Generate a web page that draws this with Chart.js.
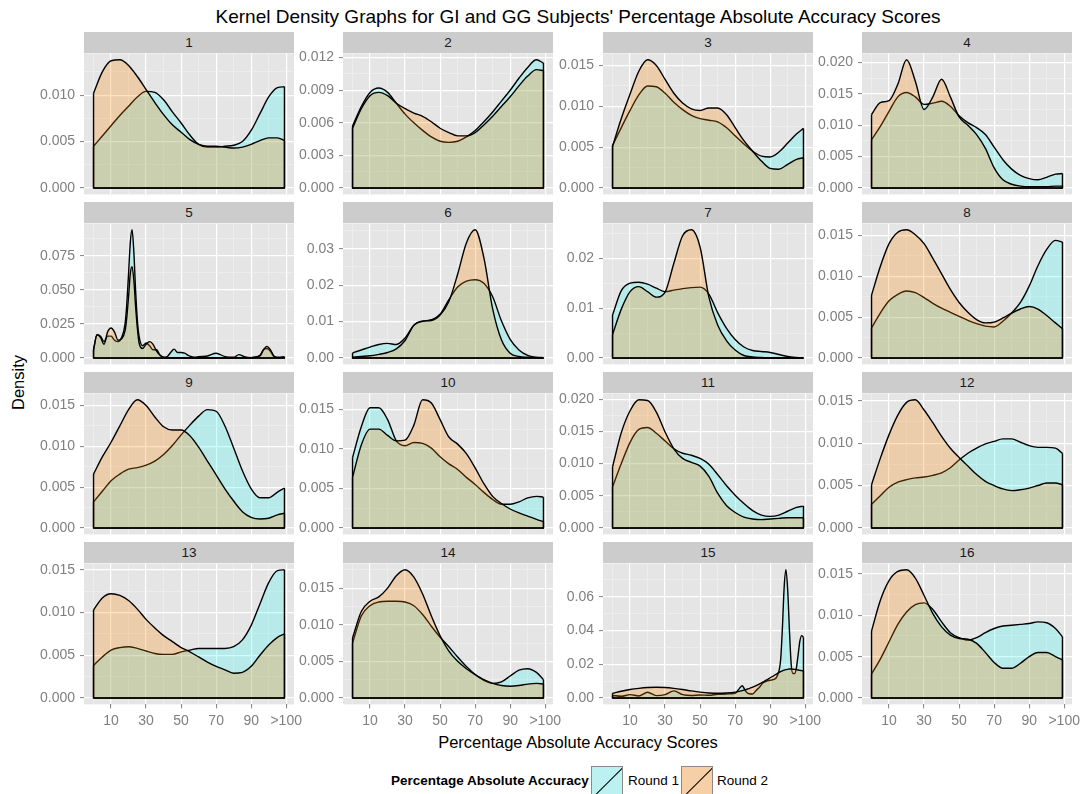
<!DOCTYPE html>
<html>
<head>
<meta charset="utf-8">
<script src="https://cdn.jsdelivr.net/npm/chart.js@4.4.1/dist/chart.umd.min.js"></script>
<style>
  body { margin: 0; background: #fff; font-family: "Liberation Sans", Arial, sans-serif; }
  #page { position: relative; width: 1081px; height: 794px; overflow: hidden; }
  .strip { position: absolute; width: 210px; height: 21px; line-height: 21px; background: #cccccc;
           color: #1a1a1a; font-size: 13.5px; text-align: center; }
  .box { position: absolute; }
  .txt { position: absolute; white-space: nowrap; color: #000; }
  .key { position: absolute; width: 32px; height: 32px; border: 1px solid #8a8a8a; box-sizing: border-box;
         overflow: hidden; }
  .key::after { content: ""; position: absolute; left: -6px; top: 15px; width: 44px; height: 1.4px;
                background: #000; transform: rotate(-45deg); }
</style>
</head>
<body>
<div id="page">
  <div class="txt" style="left:0;width:1156px;top:6px;text-align:center;font-size:19px;">Kernel Density Graphs for GI and GG Subjects' Percentage Absolute Accuracy Scores</div>
  <div class="txt" style="left:-14px;top:373px;font-size:16.5px;transform:rotate(-90deg);width:64px;text-align:center;">Density</div>
  <div class="txt" style="left:84px;width:988px;top:733px;text-align:center;font-size:16.5px;">Percentage Absolute Accuracy Scores</div>
  <div class="txt" style="left:391px;top:773px;font-size:13.5px;font-weight:bold;">Percentage Absolute Accuracy</div>
  <div class="key" style="left:591px;top:766px;background:#bcf1f1;"></div>
  <div class="txt" style="left:628px;top:773px;font-size:13.5px;">Round 1</div>
  <div class="key" style="left:681px;top:766px;background:#f6cfa6;"></div>
  <div class="txt" style="left:717px;top:773px;font-size:13.5px;">Round 2</div>
</div>
<script>
Chart.defaults.font.family = '"Liberation Sans", Arial, sans-serif'

const panels = ["1", "2", "3", "4", "5", "6", "7", "8", "9", "10", "11", "12", "13", "14", "15", "16"]

// x positions of the density estimates
const xGrid = [0, 5, 10, 15, 20, 25, 30, 35, 40, 45, 50, 55, 60, 65, 70, 75, 80, 85, 90, 95, 100, 105, 109]
const xGrid5 = [0, 2, 4, 6, 8, 10, 12, 14, 16, 18, 19, 20, 21, 22, 23, 24, 25, 26, 28, 30, 32, 34, 36, 38, 40,
  42, 44, 46, 48, 50, 52, 54, 56, 58, 60, 65, 70, 75, 80, 83, 86, 90, 95, 97, 99, 101, 103, 105, 109]
const xGrid15 = [0, 5, 10, 15, 20, 25, 30, 35, 40, 45, 50, 55, 60, 65, 70, 72, 74, 76, 78, 80, 82, 84, 86, 88,
  90, 92, 94, 96, 97, 98, 99, 100, 101, 102, 103, 104, 105, 106, 107, 108, 109]
const panelX = [xGrid, xGrid, xGrid, xGrid, xGrid5, xGrid, xGrid, xGrid,
  xGrid, xGrid, xGrid, xGrid, xGrid, xGrid, xGrid15, xGrid]

// Round 1 densities, one list per panel
const round1 = [
  [.0045, .0056, .0067, .0078, .0088, .0098, .0104, .0103, .0095, .0082, .0070, .0057, .0047, .0044, .0044, .0045, .0046, .0050, .0062, .0080, .0098, .0108, .0109],
  [.0057, .0075, .0088, .0092, .0088, .0078, .0068, .0060, .0053, .0047, .0043, .0042, .0043, .0047, .0053, .0061, .0070, .0080, .0090, .0101, .0111, .0118, .0115],
  [.0052, .0074, .0095, .0114, .0125, .0124, .0116, .0105, .0096, .0089, .0085, .0083, .0081, .0074, .0064, .0054, .0045, .0039, .0038, .0044, .0055, .0066, .0073],
  [.0077, .0098, .0122, .0145, .0152, .0145, .0133, .0135, .0138, .0130, .0115, .0104, .0096, .0085, .0065, .0045, .0030, .0020, .0015, .0013, .0017, .0022, .0023],
  [.006, .017, .016, .012, .016, .016, .013, .012, .015, .025, .040, .062, .085, .094, .078, .050, .028, .016, .009, .011, .009, .006, .006, .002, .0005,
   .001, .004, .0065, .004, .004, .0035, .002, .001, .0005, .001, .0015, .0035, .001, .0005, .0025, .001, .0003, .002, .006, .007, .005, .001, .0005, .001],
  [.0014, .0022, .0030, .0037, .0040, .0037, .0055, .0090, .0101, .0105, .0120, .0160, .0195, .0211, .0215, .0205, .0168, .0102, .0051, .0022, .0007, .0002, .0001],
  [.0086, .0135, .0150, .0152, .0148, .0140, .0133, .0136, .0139, .0141, .0142, .0128, .0091, .0060, .0037, .0022, .0015, .0013, .0011, .0007, .0003, .0001, 0],
  [.0037, .0055, .0070, .0078, .0082, .0080, .0074, .0067, .0061, .0056, .0051, .0046, .0042, .0039, .0038, .0045, .0055, .0068, .0088, .0113, .0133, .0144, .0142],
  [.0032, .0045, .0058, .0066, .0072, .0074, .0077, .0082, .0090, .0101, .0114, .0126, .0137, .0145, .0143, .0125, .0098, .0070, .0048, .0037, .0037, .0044, .0049],
  [.0089, .0128, .0152, .0152, .0137, .0110, .0104, .0108, .0107, .0101, .0090, .0081, .0074, .0064, .0055, .0045, .0036, .0030, .0030, .0033, .0038, .0040, .0039],
  [.0064, .0100, .0133, .0153, .0156, .0147, .0135, .0123, .0116, .0113, .0108, .0099, .0083, .0066, .0051, .0038, .0027, .0020, .0018, .0020, .0026, .0032, .0034],
  [.0028, .0038, .0048, .0054, .0057, .0059, .0060, .0062, .0065, .0071, .0080, .0088, .0094, .0099, .0102, .0105, .0105, .0101, .0097, .0095, .0095, .0094, .0088],
  [.0038, .0048, .0056, .0059, .0060, .0058, .0055, .0052, .0051, .0051, .0054, .0056, .0058, .0058, .0058, .0058, .0060, .0068, .0085, .0110, .0135, .0149, .0150],
  [.0075, .0112, .0126, .0131, .0132, .0132, .0131, .0126, .0114, .0098, .0083, .0070, .0056, .0043, .0032, .0024, .0020, .0022, .0030, .0038, .0040, .0035, .0025],
  [.0015, .0010, .0020, .0012, .0034, .0014, .0020, .0042, .0020, .0015, .0018, .0016, .0022, .0024, .0028, .0050, .0073, .0040, .0025, .0024,
   .0045, .0065, .0090, .0100, .0105, .0110, .0130, .0230, .0420, .0660, .0760, .0640, .0400, .0200, .0145, .0145, .0180, .0260, .0340, .0370, .0360],
  [.0029, .0047, .0068, .0089, .0104, .0113, .0115, .0107, .0092, .0079, .0073, .0070, .0073, .0079, .0084, .0087, .0088, .0089, .0090, .0092, .0091, .0084, .0074]
]

// Round 2 densities, one list per panel
const round2 = [
  [.0102, .0125, .0137, .0138, .0132, .0120, .0106, .0092, .0079, .0068, .0060, .0052, .0047, .0045, .0045, .0044, .0043, .0044, .0047, .0051, .0054, .0054, .0051],
  [.0055, .0073, .0085, .0088, .0085, .0078, .0073, .0069, .0066, .0061, .0055, .0051, .0048, .0048, .0051, .0058, .0066, .0075, .0084, .0094, .0103, .0109, .0108],
  [.0051, .0085, .0115, .0143, .0157, .0150, .0133, .0116, .0104, .0097, .0095, .0098, .0098, .0090, .0074, .0058, .0045, .0033, .0024, .0023, .0029, .0035, .0037],
  [.0117, .0136, .0139, .0165, .0204, .0170, .0125, .0145, .0173, .0145, .0113, .0100, .0085, .0063, .0032, .0013, .0006, .0003, .0002, .0002, .0002, .0003, .0003],
  [.006, .017, .015, .010, .019, .022, .019, .013, .014, .020, .030, .045, .062, .067, .057, .038, .022, .011, .007, .010, .012, .010, .005, .002, .0005,
   .0002, .0002, .0002, .0002, .0002, .0002, .0002, .0002, .0002, .0002, .0002, .0002, .0002, .0002, .0002, .0002, .0003, .0015, .006, .0085, .006, .0015, .0003, .0002],
  [.0002, .0004, .0006, .0010, .0015, .0025, .0048, .0090, .0101, .0103, .0118, .0155, .0230, .0316, .0352, .0275, .0135, .0050, .0013, .0004, .0002, .0001, 0],
  [.0047, .0098, .0133, .0143, .0133, .0122, .0132, .0190, .0245, .0257, .0222, .0122, .0066, .0035, .0016, .0005, .0002, .0001, 0, 0, 0, 0, 0],
  [.0077, .0112, .0140, .0154, .0157, .0151, .0140, .0122, .0103, .0084, .0068, .0056, .0047, .0043, .0044, .0049, .0055, .0060, .0063, .0060, .0052, .0043, .0036],
  [.0066, .0087, .0105, .0125, .0145, .0157, .0150, .0136, .0124, .0120, .0120, .0113, .0099, .0082, .0065, .0048, .0033, .0020, .0013, .0011, .0012, .0016, .0018],
  [.0064, .0105, .0125, .0125, .0117, .0110, .0111, .0130, .0162, .0158, .0137, .0115, .0106, .0094, .0076, .0056, .0040, .0031, .0024, .0019, .0015, .0011, .0008],
  [.0095, .0148, .0182, .0199, .0198, .0180, .0149, .0123, .0108, .0102, .0096, .0080, .0054, .0035, .0024, .0017, .0014, .0013, .0014, .0015, .0016, .0016, .0016],
  [.0051, .0082, .0110, .0133, .0148, .0151, .0139, .0124, .0108, .0094, .0083, .0073, .0063, .0055, .0050, .0046, .0044, .0045, .0047, .0050, .0053, .0053, .0051],
  [.0103, .0117, .0122, .0120, .0114, .0104, .0092, .0082, .0073, .0066, .0059, .0054, .0048, .0042, .0037, .0033, .0029, .0030, .0037, .0050, .0062, .0071, .0075],
  [.0082, .0118, .0132, .0138, .0150, .0167, .0175, .0165, .0142, .0112, .0085, .0064, .0050, .0040, .0032, .0025, .0020, .0017, .0016, .0017, .0019, .0020, .0019],
  [.0028, .0040, .0050, .0057, .0062, .0064, .0062, .0057, .0050, .0042, .0035, .0030, .0028, .0030, .0035, .0039, .0044, .0050, .0056, .0064,
   .0073, .0083, .0095, .0107, .0120, .0132, .0145, .0156, .0161, .0165, .0168, .0170, .0172, .0172, .0171, .0170, .0168, .0166, .0164, .0162, .0160],
  [.0081, .0118, .0142, .0153, .0155, .0145, .0124, .0102, .0086, .0076, .0072, .0071, .0066, .0055, .0043, .0036, .0036, .0042, .0050, .0055, .0055, .0050, .0046]
]

// y tick spacing and label decimals per panel
const yStep = [.005, .003, .005, .005, .025, .01, .01, .005, .005, .005, .005, .005, .005, .005, .02, .005]
const yDigits = [3, 3, 3, 3, 3, 2, 2, 3, 3, 3, 3, 3, 3, 3, 2, 3]

const xTickValues = [10, 30, 50, 70, 90, 110]
const xTickLabels = ["10", "30", "50", "70", "90", ">100"]

const FILL1 = "rgba(57, 253, 253, 0.25)"
const FILL2 = "rgba(255, 133, 0, 0.25)"

const COL_LEFT = [84, 343, 603, 862]
const ROW_TOP = [32, 202, 372, 542]
const STRIP_H = 21
const PLOT_W = 210
const PLOT_H = 141
const AXIS_W = 60
const PAD_TOP = 10

const panelBg = {
  id: "panelBg",
  beforeDraw(chart) {
    const a = chart.chartArea, ctx = chart.ctx
    ctx.save()
    ctx.fillStyle = "#e5e5e5"
    ctx.fillRect(a.left, a.top, a.right - a.left, a.bottom - a.top)
    ctx.restore()
  }
}

// closes each density polygon: the two ends down to zero and the base line
const closeArea = {
  id: "closeArea",
  afterDatasetDraw(chart, args) {
    const pts = args.meta.data
    if (!pts.length) return
    const y0 = chart.scales.y.getPixelForValue(0)
    const first = pts[0], last = pts[pts.length - 1]
    const ctx = chart.ctx
    ctx.save()
    ctx.strokeStyle = "#000"
    ctx.lineWidth = 1.4
    ctx.lineJoin = "round"
    ctx.beginPath()
    ctx.moveTo(first.x, first.y)
    ctx.lineTo(first.x, y0)
    ctx.lineTo(last.x, y0)
    ctx.lineTo(last.x, last.y)
    ctx.stroke()
    ctx.restore()
  }
}

const page = document.getElementById("page")

panels.forEach((name, i) => {
  const row = Math.floor(i / 4), col = i % 4
  const bottom = row === 3
  const xAxisH = bottom ? 30 : 12
  const left = COL_LEFT[col], top = ROW_TOP[row]

  const strip = document.createElement("div")
  strip.className = "strip"
  strip.style.left = left + "px"
  strip.style.top = top + "px"
  strip.textContent = name
  page.appendChild(strip)

  const box = document.createElement("div")
  box.className = "box"
  box.style.left = (left - AXIS_W) + "px"
  box.style.top = (top + STRIP_H - PAD_TOP) + "px"
  box.style.width = (AXIS_W + PLOT_W + 15) + "px"
  box.style.height = (PAD_TOP + PLOT_H + xAxisH) + "px"
  const canvas = document.createElement("canvas")
  box.appendChild(canvas)
  page.appendChild(box)

  const xs = panelX[i]
  const top1 = Math.max(...round1[i], ...round2[i])
  const yMin = -0.05 * top1, yMax = 1.05 * top1
  const step = yStep[i]
  const isMajorY = v => Math.abs(v / step - Math.round(v / step)) < 1e-6
  const isMajorX = v => xTickValues.includes(v)

  const chart = new Chart(canvas.getContext("2d"), {
    type: "line",
    data: {
      datasets: [
        {
          label: "Round 1",
          data: xs.map((x, k) => ({ x, y: round1[i][k] })),
          fill: "origin", backgroundColor: FILL1, borderColor: "#000", borderWidth: 1.4,
          pointRadius: 0, pointHoverRadius: 0, pointBorderWidth: 0,
          cubicInterpolationMode: "monotone", order: 1
        },
        {
          label: "Round 2",
          data: xs.map((x, k) => ({ x, y: round2[i][k] })),
          fill: "origin", backgroundColor: FILL2, borderColor: "#000", borderWidth: 1.4,
          pointRadius: 0, pointHoverRadius: 0, pointBorderWidth: 0,
          cubicInterpolationMode: "monotone", order: 0
        }
      ]
    },
    options: {
      responsive: true,
      maintainAspectRatio: false,
      animation: false,
      events: [],
      layout: { padding: { left: 0, right: 15, top: PAD_TOP, bottom: 0 } },
      plugins: { legend: { display: false }, tooltip: { enabled: false } },
      scales: {
        x: {
          type: "linear", min: -5.45, max: 114.45,
          afterBuildTicks: s => { s.ticks = [0, 10, 20, 30, 40, 50, 60, 70, 80, 90, 100, 110].map(v => ({ value: v })) },
          afterFit: s => { s.height = xAxisH },
          border: { display: false },
          grid: {
            color: c => isMajorX(c.tick.value) ? "#ffffff" : "#f2f2f2",
            lineWidth: c => isMajorX(c.tick.value) ? 1.2 : 0.6,
            drawTicks: bottom, tickLength: 4, tickWidth: 1,
            tickColor: c => isMajorX(c.tick.value) ? "#7f7f7f" : "rgba(0,0,0,0)"
          },
          ticks: {
            display: bottom, autoSkip: false, maxRotation: 0, color: "#7f7f7f",
            font: { size: 14 }, padding: 4,
            callback: v => { const k = xTickValues.indexOf(v); return k < 0 ? "" : xTickLabels[k] }
          }
        },
        y: {
          type: "linear", min: yMin, max: yMax,
          afterBuildTicks: s => {
            const t = []
            for (let k = 0; k * step / 2 <= yMax; k++) t.push({ value: +(k * step / 2).toFixed(6) })
            s.ticks = t
          },
          afterFit: s => { s.width = AXIS_W },
          border: { display: false },
          grid: {
            color: c => isMajorY(c.tick.value) ? "#ffffff" : "#f2f2f2",
            lineWidth: c => isMajorY(c.tick.value) ? 1.2 : 0.6,
            tickLength: 4, tickWidth: 1,
            tickColor: c => isMajorY(c.tick.value) ? "#7f7f7f" : "rgba(0,0,0,0)"
          },
          ticks: {
            autoSkip: false, color: "#7f7f7f", font: { size: 14 }, padding: 5,
            callback: v => isMajorY(v) ? v.toFixed(yDigits[i]) : ""
          }
        }
      }
    },
    plugins: [panelBg, closeArea]
  })

  // keep the plotting area exactly under its strip, PLOT_H tall
  const a = chart.chartArea
  const dTop = a.top - PAD_TOP
  const dBottom = (PAD_TOP + PLOT_H) - a.bottom
  if (Math.abs(dTop) > 0.5 || Math.abs(dBottom) > 0.5) {
    box.style.top = (top + STRIP_H - PAD_TOP - dTop) + "px"
    box.style.height = (PAD_TOP + PLOT_H + xAxisH + dTop + dBottom) + "px"
    chart.resize()
  }
})
</script>
</body>
</html>
